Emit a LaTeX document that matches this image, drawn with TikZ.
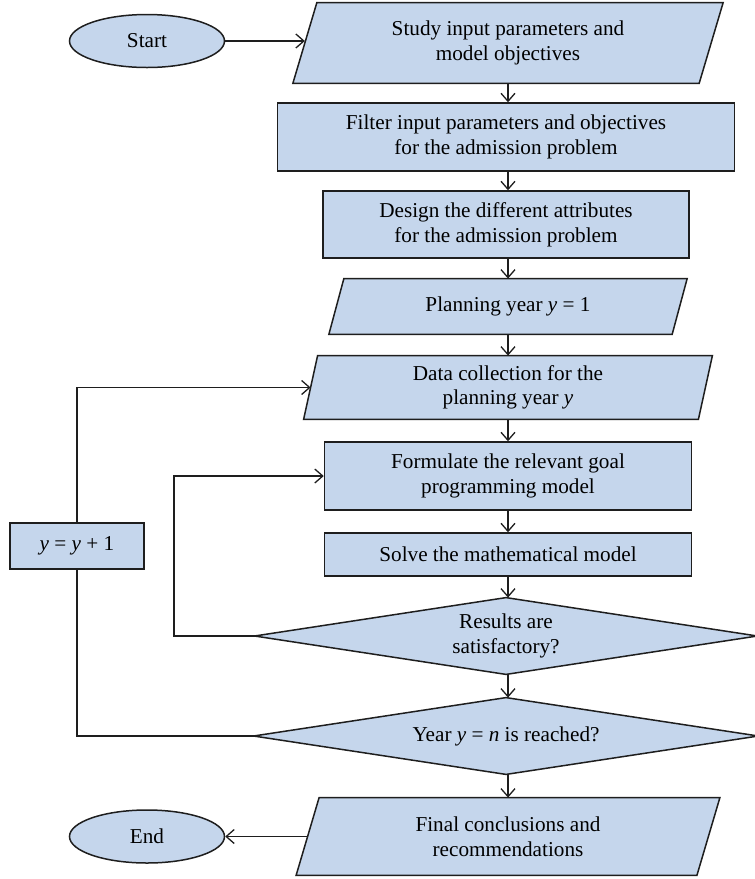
\documentclass[tikz,border=0pt]{standalone}
\usepackage{fontspec}
\setmainfont{Liberation Serif}
\usetikzlibrary{arrows.meta,shapes.geometric,backgrounds}
\definecolor{boxfill}{RGB}{197,214,236}
\definecolor{boxline}{RGB}{30,30,30}
\newcommand\paral[2]{\path[shapeline] ([xshift=#2]#1.north west) -- ([xshift=#2]#1.north east) -- ([xshift=-#2]#1.south east) -- ([xshift=-#2]#1.south west) -- cycle;}
\newcommand\diam[1]{\path[shapeline] (#1.west) -- (#1.north) -- (#1.east) -- (#1.south) -- cycle;}
\begin{document}
\begin{tikzpicture}[x=0.5pt,y=-0.5pt,
  font=\fontsize{10.6}{12.3}\selectfont,
  shapeline/.style={draw=boxline, fill=boxfill, line width=0.75pt, line join=miter},
  box/.style={rectangle, shapeline, align=center, inner sep=0pt},
  slot/.style={rectangle, align=center, inner sep=0pt},
  oval/.style={ellipse, shapeline, inner sep=0pt},
  conn/.style={draw=boxline, line width=0.65pt},
  arr/.style={conn, -{Straight Barb[length=4pt,width=7pt]}}]
\useasboundingbox (0,0) rectangle (755,879);

\node[oval, minimum width=77.5pt, minimum height=26.5pt] (start) at (147,41) {Start};
\node[slot, minimum width=202.75pt, minimum height=40pt] (study) at (508,43) {Study input parameters and\\model objectives};
\node[box, minimum width=228.5pt, minimum height=34pt] (filter) at (506,137) {Filter input parameters and objectives\\for the admission problem};
\node[box, minimum width=183pt, minimum height=33.5pt] (design) at (506,224.5) {Design the different attributes\\for the admission problem};
\node[slot, minimum width=171.25pt, minimum height=27.5pt] (planning) at (508,306.5) {Planning year \textit{y} = 1};
\node[slot, minimum width=197pt, minimum height=31.5pt] (data) at (508,387.5) {Data collection for the\\planning year \textit{y}};
\node[box, minimum width=183.5pt, minimum height=34pt] (formulate) at (508,476) {Formulate the relevant goal\\programming model};
\node[box, minimum width=183.5pt, minimum height=21.5pt] (solve) at (508,554.5) {Solve the mathematical model};
\node[slot, minimum width=251pt, minimum height=38pt] (results) at (506,636) {Results are\\satisfactory?};
\node[slot, minimum width=252pt, minimum height=38pt] (year) at (506,736) {Year \textit{y} = \textit{n} is reached?};
\node[slot, minimum width=200pt, minimum height=38.5pt] (final) at (508,836.5) {Final conclusions and\\recommendations};
\node[oval, minimum width=77.5pt, minimum height=26.5pt] (end) at (147,836.5) {End};
\node[box, minimum width=67pt, minimum height=23pt] (yinc) at (77,546) {\textit{y} = \textit{y} + 1};

\begin{scope}[on background layer]
\paral{study}{6pt}
\paral{planning}{3.75pt}
\paral{data}{3.5pt}
\paral{final}{5.75pt}
\diam{results}
\diam{year}
\end{scope}

\coordinate (k1) at (174,0);
\draw[arr] (start.east) -- (start.east -| study.west);
\draw[arr] (study.south) -- (study.south |- filter.north);
\draw[arr] (filter.south -| study.south) -- (study.south |- design.north);
\draw[arr] (design.south -| study.south) -- (planning.north);
\draw[arr] (planning.south) -- (data.north);
\draw[arr] (data.south) -- (formulate.north);
\draw[arr] (formulate.south) -- (solve.north);
\draw[arr] (solve.south) -- (solve.south |- results.north);
\draw[arr] (results.south -| solve.south) -- (solve.south |- year.north);
\draw[arr] (year.south -| solve.south) -- (final.north);
\draw[arr] (results.west) -- (results.west -| k1) |- (formulate.west);
\draw[conn] (year.west) -| (yinc.south);
\draw[arr] (yinc.north) |- (data.west);
\draw[arr] (final.west) -- (end.east);
\end{tikzpicture}
\end{document}
